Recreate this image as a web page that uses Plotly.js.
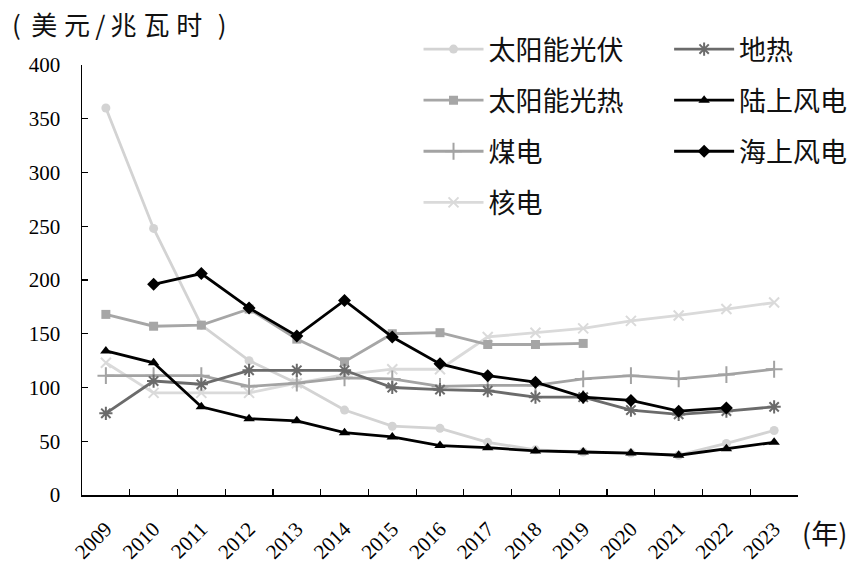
<!DOCTYPE html>
<html>
<head>
<meta charset="utf-8">
<script src="https://cdn.plot.ly/plotly-3.0.1.min.js"></script>
<style>html,body{margin:0;padding:0;background:#fff;}#chart{width:864px;height:573px;}</style>
</head>
<body>
<div id="chart"></div>
<script>
const years = ["2009","2010","2011","2012","2013","2014","2015","2016","2017","2018","2019","2020","2021","2022","2023"];
const solarPV      = [360, 248, 158, 125, 104, 79, 64, 62, 49, 42, 40, 39, 37, 48, 60];
const solarThermal = [168, 157, 158, 173, 145, 124, 150, 151, 140, 140, 141, null, null, null, null];
const coal         = [111, 111, 111, 101, 104, 109, 108, 101, 102, 102, 108, 111, 108, 112, 117];
const nuclear      = [123, 95, 95, 95, 104, 112, 117, 117, 147, 151, 155, 162, 167, 173, 179];
const geothermal   = [76, 106, 103, 116, 116, 116, 100, 98, 97, 91, 91, 79, 75, 78, 82];
const onshoreWind  = [134, 123, 82, 71, 69, 58, 54, 46, 44, 41, 40, 39, 37, 43, 49];
const offshoreWind = [null, 196, 206, 174, 148, 181, 147, 122, 111, 105, 91, 88, 78, 81, null];

const names = {pv:"太阳能光伏", geo:"地热", csp:"太阳能光热", on:"陆上风电", coal:"煤电", off:"海上风电", nuc:"核电"};

function tr(y, name, color, symbol, size, lw, legend, rank, mlw) {
  return {
    x: years, y: y, name: name, type: "scatter", mode: "lines+markers",
    line: {color: color, width: lw},
    marker: {symbol: symbol, size: size, color: color, line: {color: color, width: mlw || 0}},
    legend: legend, legendrank: rank, legendgroup: name, connectgaps: false
  };
}

const data = [
  tr(nuclear, names.nuc, "#dadada", "x-thin-open", 10, 2.8, "legend", 4, 2),
  tr(solarPV, names.pv, "#d3d3d3", "circle", 9, 2.8, "legend", 1),
  tr(coal, names.coal, "#a3a3a3", "cross-thin-open", 12, 2.8, "legend", 3, 2),
  tr(solarThermal, names.csp, "#a6a6a6", "square", 9, 2.8, "legend", 2),
  tr(geothermal, names.geo, "#6b6b6b", "asterisk-open", 11, 2.8, "legend2", 1, 2),
  tr(onshoreWind, names.on, "#000000", "triangle-up", 10, 2.8, "legend2", 2),
  tr(offshoreWind, names.off, "#000000", "diamond", 10, 2.8, "legend2", 3)
];

const legendFont = {family: "Noto Sans CJK SC", size: 27, color: "#111"};
const layout = {
  width: 864, height: 573,
  margin: {l: 82, r: 63, t: 65, b: 78},
  paper_bgcolor: "#fff", plot_bgcolor: "#fff",
  showlegend: true,
  xaxis: {
    type: "category", range: [-0.5, 14.5], tickson: "boundaries",
    ticks: "inside", ticklen: 6, tickwidth: 1.2, tickcolor: "#000",
    showline: true, linecolor: "#000", linewidth: 1.5, showgrid: false, zeroline: false,
    tickangle: -45, tickfont: {family: "Liberation Serif", size: 21, color: "#000"},
    ticklabelstandoff: 12, fixedrange: true
  },
  yaxis: {
    range: [0, 400], dtick: 50, ticks: "inside", ticklen: 6, tickwidth: 1.2, tickcolor: "#000",
    showline: true, linecolor: "#000", linewidth: 1.5, showgrid: false, zeroline: false,
    tickfont: {family: "Liberation Serif", size: 21, color: "#000"}, ticklabelstandoff: 16,
    fixedrange: true
  },
  legend: {
    x: 0.47, y: 1.093, xanchor: "left", yanchor: "top", orientation: "v",
    traceorder: "grouped", tracegroupgap: 13, itemwidth: 60, bgcolor: "rgba(0,0,0,0)",
    font: legendFont
  },
  legend2: {
    x: 0.82, y: 1.093, xanchor: "left", yanchor: "top", orientation: "v",
    traceorder: "grouped", tracegroupgap: 13, itemwidth: 60, bgcolor: "rgba(0,0,0,0)",
    font: legendFont
  },
  annotations: [
    {text: "(\u2009\u2009美\u2009\u200a元\u2009/\u2009兆\u2009\u200a瓦\u2009\u200a时\u2009\u2009\u2009)", xref: "paper", yref: "paper", x: -0.1, y: 1.097,
     xanchor: "left", yanchor: "middle", showarrow: false,
     font: {family: "Noto Sans CJK SC", size: 26, color: "#111"}},
    {text: "(年)", xref: "paper", yref: "paper", x: 1.003, y: -0.088,
     xanchor: "left", yanchor: "middle", showarrow: false,
     font: {family: "Noto Sans CJK SC", size: 27, color: "#111"}}
  ]
};

Plotly.newPlot("chart", data, layout, {staticPlot: true, displayModeBar: false});
</script>
</body>
</html>
